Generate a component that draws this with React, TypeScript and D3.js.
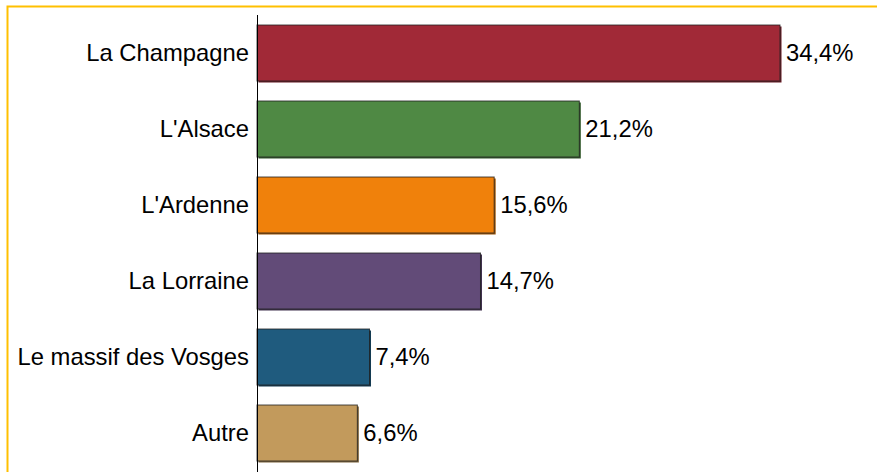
import React from "react";
import * as d3 from "d3";

const categories = ["La Champagne", "L'Alsace", "L'Ardenne", "La Lorraine", "Le massif des Vosges", "Autre"];
const values = [34.4, 21.2, 15.6, 14.7, 7.4, 6.6];
const colors = ["#a12937", "#4f8944", "#f0810b", "#624b78", "#1f5b7e", "#c29a5c"];

export default function App() {
  const W = 877, H = 472;
  const x = d3.scaleLinear().domain([0, 34.4]).range([257, 780]);
  const y = d3.scaleBand<string>().domain(categories).range([15, 471]).paddingInner(20 / 76).paddingOuter(10 / 76);
  const fmt = (v: number) => v.toFixed(1).replace(".", ",") + "%";
  return (
    <svg width={W} height={H} style={{ position: "absolute", left: 0, top: 0 }} fontFamily="Liberation Sans, Arial, sans-serif">
      <rect x={0} y={0} width={W} height={H} fill="#fff" />
      <path d={`M7.5,${H} V6.5 H${W}`} fill="none" stroke="#ffc000" strokeWidth={2} />
      {categories.map((c, i) => {
        const yy = y(c)!;
        const w = x(values[i]) - x(0);
        const shadow = d3.color(colors[i])!.darker(1.2).toString();
        return (
          <g key={c}>
            <rect x={x(0) + 1.5} y={yy + 1.5} width={w} height={y.bandwidth()} fill={shadow} />
            <rect x={x(0)} y={yy} width={w} height={y.bandwidth()} fill={colors[i]} stroke="#222" strokeWidth={1} strokeOpacity={0.8} />
            <text x={249} y={yy + y.bandwidth() / 2} dy="0.35em" textAnchor="end" fontSize={23.8} fill="#000">{c}</text>
            <text x={x(values[i]) + 6} y={yy + y.bandwidth() / 2} dy="0.35em" fontSize={23.8} fill="#000">{fmt(values[i])}</text>
          </g>
        );
      })}
      <line x1={257.5} x2={257.5} y1={15} y2={H} stroke="#000" strokeWidth={1} />
    </svg>
  );
}
